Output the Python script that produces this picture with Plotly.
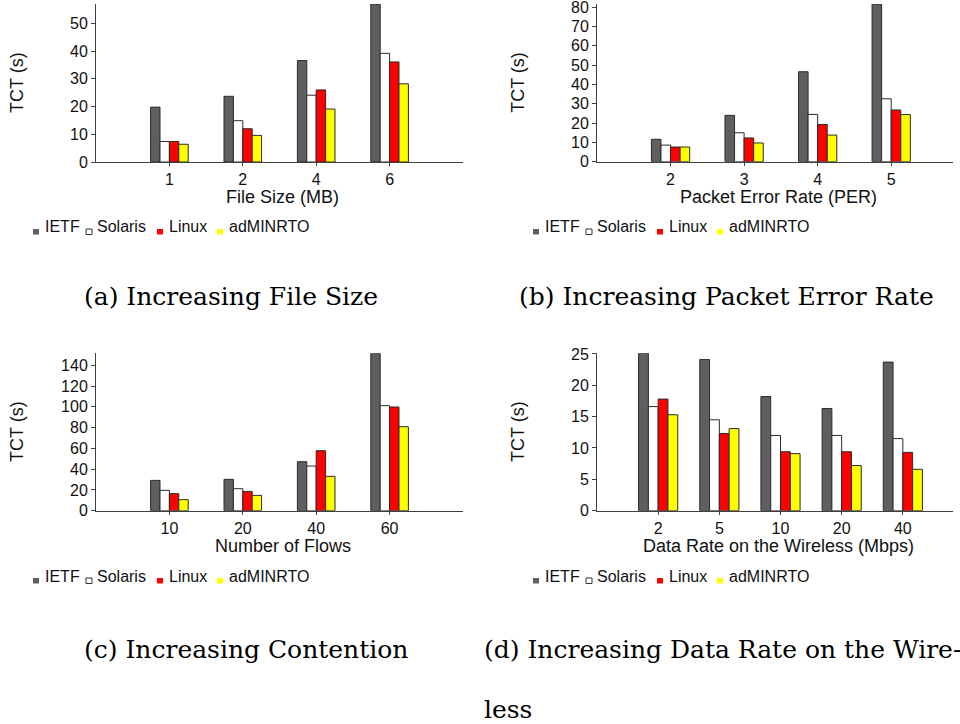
import plotly.graph_objects as go

W, H = 960, 724

# ---------------- data ----------------
series_names = ["IETF", "Solaris", "Linux", "adMINRTO"]

cats_a = ["1", "2", "4", "6"]
ietf_a = [19.8, 23.7, 36.6, 57.0]
solaris_a = [7.4, 14.9, 24.1, 39.2]
linux_a = [7.4, 12.0, 26.0, 36.1]
admin_a = [6.4, 9.6, 19.1, 28.2]

cats_b = ["2", "3", "4", "5"]
ietf_b = [11.6, 24.0, 46.6, 81.7]
solaris_b = [8.6, 15.0, 24.5, 32.6]
linux_b = [7.6, 12.3, 19.3, 26.8]
admin_b = [7.6, 9.7, 13.8, 24.4]

cats_c = ["10", "20", "40", "60"]
ietf_c = [29.2, 30.2, 47.2, 151.6]
solaris_c = [19.6, 21.2, 43.0, 101.2]
linux_c = [16.4, 18.6, 57.8, 99.9]
admin_c = [10.6, 14.8, 33.1, 80.9]

cats_d = ["2", "5", "10", "20", "40"]
ietf_d = [25.1, 24.1, 18.2, 16.3, 23.7]
solaris_d = [16.6, 14.5, 12.0, 12.0, 11.5]
linux_d = [17.8, 12.3, 9.4, 9.4, 9.3]
admin_d = [15.3, 13.1, 9.1, 7.2, 6.6]

x_titles = ["File Size (MB)", "Packet Error Rate (PER)", "Number of Flows",
            "Data Rate on the Wireless (Mbps)"]
y_title = "TCT (s)"
captions = ["(a) Increasing File Size", "(b) Increasing Packet Error Rate",
            "(c) Increasing Contention", "(d) Increasing Data Rate on the Wire-", "less"]

# ---------------- styling ----------------
fills = ["#5f5f5f", "#ffffff", "#ff0000", "#ffff00"]
outline = "#2a2a2a"
axis_col = "#404040"
sans = "Liberation Sans, Arial, sans-serif"
serif = "DejaVu Serif, serif"
txt_col = "#111111"


def fx(p):
    return p / W


def fy(p):
    return 1 - p / H


panels = [
    # cats, series, xdomain px, ydomain px (bottom, top), xmax, ymax, dtick, bar width
    (cats_a, [ietf_a, solaris_a, linux_a, admin_a], (96, 463), (162, 4), 4.0, 57.0, 10, 0.128),
    (cats_b, [ietf_b, solaris_b, linux_b, admin_b], (597, 953), (161.7, 4), 3.84, 81.7, 10, 0.13),
    (cats_c, [ietf_c, solaris_c, linux_c, admin_c], (96, 463), (510.7, 353.3), 4.0, 151.6, 20, 0.128),
    (cats_d, [ietf_d, solaris_d, linux_d, admin_d], (597, 953), (510.7, 353.3), 4.82, 25.1, 5, 0.16),
]

fig = go.Figure()
layout = dict(
    template="none",
    width=W, height=H, margin=dict(l=0, r=0, t=0, b=0, pad=0, autoexpand=False),
    paper_bgcolor="white", plot_bgcolor="white",
    barmode="overlay", showlegend=False,
    font=dict(family=sans, size=16, color=txt_col),
)
annotations = []
shapes = []

for k, (cats, vals, xd, yd, xmax, ymax, dt, bw) in enumerate(panels):
    sfx = "" if k == 0 else str(k + 1)
    for i, (name, v) in enumerate(zip(series_names, vals)):
        fig.add_trace(go.Bar(
            x=cats, y=v, name=name, width=bw, offset=-2 * bw + i * bw,
            marker=dict(color=fills[i], line=dict(color=outline, width=1)),
            xaxis="x" + sfx, yaxis="y" + sfx, cliponaxis=True,
        ))
    layout["xaxis" + sfx] = dict(
        domain=[fx(xd[0]), fx(xd[1])], anchor="y" + sfx, automargin=False,
        type="category", range=[-1, xmax], ticklabeloverflow="allow",
        showline=True, linecolor=axis_col, linewidth=1,
        ticks="outside", ticklen=3, tickcolor=axis_col, tickwidth=1,
        showgrid=False, zeroline=False, tickfont=dict(size=16, color=txt_col),
    )
    layout["yaxis" + sfx] = dict(
        domain=[fy(yd[0]), fy(yd[1])], anchor="x" + sfx, automargin=False,
        range=[0, ymax], dtick=dt, tick0=0, ticklabeloverflow="allow",
        showline=True, linecolor=axis_col, linewidth=1,
        ticks="outside", ticklen=4, tickcolor=axis_col, tickwidth=1,
        showgrid=False, zeroline=False, tickfont=dict(size=16, color=txt_col),
    )
    # axis titles
    xc = (xd[0] + xd[1]) / 2 + 3
    annotations.append(dict(
        text=x_titles[k], xref="paper", yref="paper", x=fx(xc), y=fy(yd[0] + 35),
        xanchor="center", yanchor="middle", showarrow=False,
        font=dict(family=sans, size=18, color=txt_col)))
    yx = 17 if xd[0] < 300 else 518
    annotations.append(dict(
        text=y_title, xref="paper", yref="paper", x=fx(yx), y=fy((yd[0] + yd[1]) / 2),
        xanchor="center", yanchor="middle", showarrow=False, textangle=-90,
        font=dict(family=sans, size=18, color=txt_col)))

# legends (one under every panel)
leg_rows = [(33, 226, 229), (533, 226, 229), (33, 576, 578), (533, 576, 578)]
sq_dx = [0, 53, 124, 184]
tx_dx = [10, 62, 134, 194]
for (x0, ty, sy) in leg_rows:
    for i, name in enumerate(series_names):
        shapes.append(dict(
            type="rect", xref="paper", yref="paper",
            x0=fx(x0 + sq_dx[i]), x1=fx(x0 + sq_dx[i] + 6),
            y0=fy(sy + 5.5), y1=fy(sy),
            fillcolor=fills[i], line=dict(color="#333333", width=1 if i == 1 else 0)))
        annotations.append(dict(
            text=name, xref="paper", yref="paper", x=fx(x0 + tx_dx[i]), y=fy(ty),
            xanchor="left", yanchor="middle", showarrow=False,
            font=dict(family=sans, size=16, color=txt_col)))

# sub-figure captions
cap_pos = [(82, 297), (517, 297), (82, 649), (482, 649), (482, 709)]
for text, (cx, cy) in zip(captions, cap_pos):
    annotations.append(dict(
        text=text, xref="paper", yref="paper", x=fx(cx), y=fy(cy),
        xanchor="left", yanchor="middle", showarrow=False,
        font=dict(family=serif, size=25, color="#000000")))

layout["annotations"] = annotations
layout["shapes"] = shapes
fig.update_layout(**layout)
fig.write_html(
    "out.html",
    config={"displayModeBar": False, "staticPlot": True},
    post_script="document.body.style.margin='0';document.body.style.padding='0';"
                "document.body.style.overflow='hidden';",
)
